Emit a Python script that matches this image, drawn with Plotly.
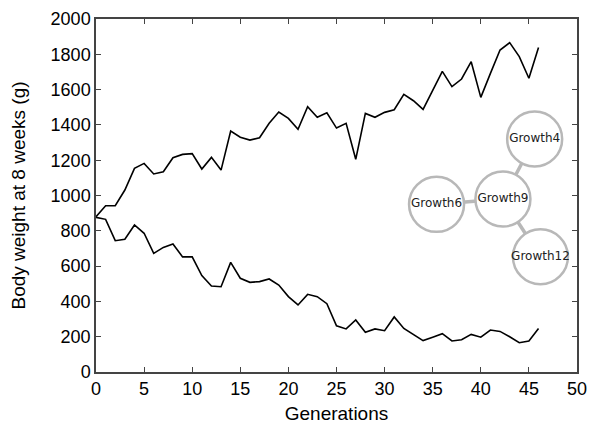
import plotly.graph_objects as go

# generations 0..46
generations = list(range(47))

# selected up / selected down body weight (g)
weight_high = [880, 942, 942, 1031, 1154, 1182, 1122, 1135, 1214, 1233,
               1237, 1150, 1216, 1144, 1365, 1330, 1314, 1327, 1409, 1473,
               1437, 1375, 1503, 1443, 1469, 1382, 1409, 1205, 1465, 1443,
               1471, 1486, 1573, 1537, 1488, 1598, 1703, 1617, 1660, 1758,
               1556, 1692, 1824, 1866, 1787, 1664, 1838]
weight_low = [876, 865, 744, 752, 833, 786, 672, 706, 725, 652,
              652, 546, 487, 483, 621, 531, 508, 512, 527, 493,
              427, 380, 440, 427, 387, 262, 244, 295, 225, 244,
              234, 312, 247, 210, 178, 197, 217, 176, 183, 213,
              197, 238, 230, 200, 166, 176, 247]

# small network inset (placed in data coordinates)
node_names = ["Growth4", "Growth9", "Growth6", "Growth12"]
node_x = [45.6, 42.3, 35.4, 46.2]
node_y = [1320, 980, 950, 653]
edges = [(1, 0), (1, 2), (1, 3)]

fig = go.Figure()
for w in (weight_high, weight_low):
    fig.add_trace(go.Scatter(x=generations, y=w, mode="lines",
                             line=dict(color="black", width=1.6),
                             showlegend=False, hoverinfo="skip"))

ex, ey = [], []
for a, b in edges:
    ex += [node_x[a], node_x[b], None]
    ey += [node_y[a], node_y[b], None]
fig.add_trace(go.Scatter(x=ex, y=ey, mode="lines",
                         line=dict(color="#b8b8b8", width=3.5),
                         showlegend=False, hoverinfo="skip"))
fig.add_trace(go.Scatter(x=node_x, y=node_y, mode="markers+text",
                         text=node_names, textposition="middle center",
                         textfont=dict(family="DejaVu Sans", size=12, color="#222"),
                         marker=dict(size=55, color="white",
                                     line=dict(color="#b8b8b8", width=2.5)),
                         showlegend=False, hoverinfo="skip"))

axis_common = dict(showline=True, linecolor="#444", linewidth=1.5, mirror="ticks",
                   ticks="inside", ticklen=5, tickcolor="#444", tickwidth=1.2,
                   showgrid=False, zeroline=False, automargin=False,
                   tickfont=dict(family="Liberation Sans", size=18, color="black"))

fig.update_xaxes(range=[0, 50], dtick=5,
                 title=dict(text="Generations", standoff=8,
                            font=dict(family="Liberation Sans", size=19, color="black")),
                 **axis_common)
fig.update_yaxes(range=[0, 2000], dtick=200,
                 title=dict(text="Body weight at 8 weeks (g)", standoff=26,
                            font=dict(family="Liberation Sans", size=19, color="black")),
                 **axis_common)

# page body has an 8px margin, so offset the plot area accordingly
fig.update_layout(width=600, height=428,
                  margin=dict(l=88, r=31, t=11, b=64),
                  plot_bgcolor="white", paper_bgcolor="white")

fig.write_html("out.html")
